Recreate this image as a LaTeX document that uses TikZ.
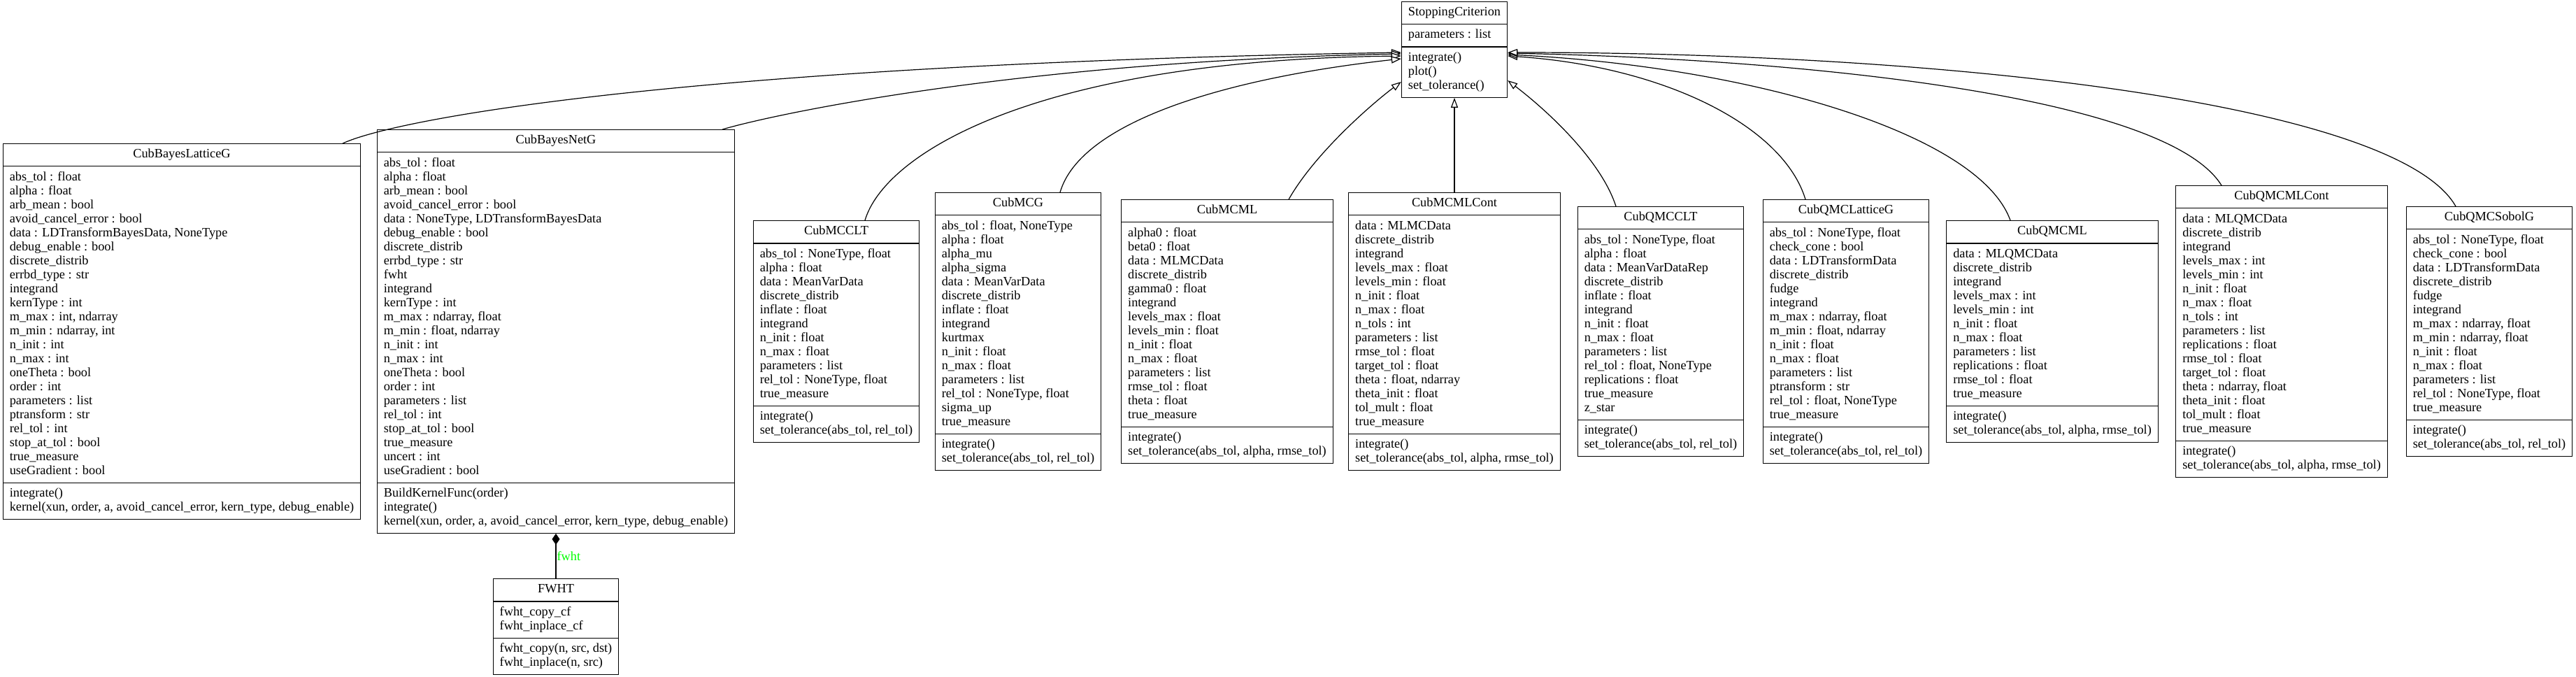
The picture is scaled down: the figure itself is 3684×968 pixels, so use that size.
\documentclass[tikz,border=0pt]{standalone}
\usepackage{fontspec}
\setmainfont{Liberation Serif}
\usetikzlibrary{shapes.multipart, arrows.meta}

\newcommand{\rows}[1]{\strut#1\strut}

\begin{document}
\begin{tikzpicture}[x=1pt, y=-1pt,
	umlbox/.style={draw, line width=1.2pt, rectangle split, rectangle split parts=3, rectangle split part align={center,left,left}, align=left, inner xsep=9.5pt, inner ysep=5.5pt, font=\fontsize{18.3}{20}\selectfont},
	isa/.style={line width=1.2pt, -{Triangle[fill=white, length=14pt, width=10pt]}},
	hasa/.style={line width=1.2pt, {Diamond[length=16pt, width=11pt]}-}]
	\useasboundingbox (0,0) rectangle (3684,968);

	\node[umlbox] (sc) at (2080,71) {\rows{StoppingCriterion}\nodepart{two}\rows{parameters : list}\nodepart{three}\rows{integrate()\\plot()\\set\_tolerance()}};

	\node[umlbox] (blg) at (260,474) {\rows{CubBayesLatticeG}\nodepart{two}\rows{abs\_tol : float\\alpha : float\\arb\_mean : bool\\avoid\_cancel\_error : bool\\data : LDTransformBayesData, NoneType\\debug\_enable : bool\\discrete\_distrib\\errbd\_type : str\\integrand\\kernType : int\\m\_max : int, ndarray\\m\_min : ndarray, int\\n\_init : int\\n\_max : int\\oneTheta : bool\\order : int\\parameters : list\\ptransform : str\\rel\_tol : int\\stop\_at\_tol : bool\\true\_measure\\useGradient : bool}\nodepart{three}\rows{integrate()\\kernel(xun, order, a, avoid\_cancel\_error, kern\_type, debug\_enable)}};

	\node[umlbox] (bng) at (795,474) {\rows{CubBayesNetG}\nodepart{two}\rows{abs\_tol : float\\alpha : float\\arb\_mean : bool\\avoid\_cancel\_error : bool\\data : NoneType, LDTransformBayesData\\debug\_enable : bool\\discrete\_distrib\\errbd\_type : str\\fwht\\integrand\\kernType : int\\m\_max : ndarray, float\\m\_min : float, ndarray\\n\_init : int\\n\_max : int\\oneTheta : bool\\order : int\\parameters : list\\rel\_tol : int\\stop\_at\_tol : bool\\true\_measure\\uncert : int\\useGradient : bool}\nodepart{three}\rows{BuildKernelFunc(order)\\integrate()\\kernel(xun, order, a, avoid\_cancel\_error, kern\_type, debug\_enable)}};

	\node[umlbox] (mcclt) at (1196,474) {\rows{CubMCCLT}\nodepart{two}\rows{abs\_tol : NoneType, float\\alpha : float\\data : MeanVarData\\discrete\_distrib\\inflate : float\\integrand\\n\_init : float\\n\_max : float\\parameters : list\\rel\_tol : NoneType, float\\true\_measure}\nodepart{three}\rows{integrate()\\set\_tolerance(abs\_tol, rel\_tol)}};

	\node[umlbox] (mcg) at (1456,474) {\rows{CubMCG}\nodepart{two}\rows{abs\_tol : float, NoneType\\alpha : float\\alpha\_mu\\alpha\_sigma\\data : MeanVarData\\discrete\_distrib\\inflate : float\\integrand\\kurtmax\\n\_init : float\\n\_max : float\\parameters : list\\rel\_tol : NoneType, float\\sigma\_up\\true\_measure}\nodepart{three}\rows{integrate()\\set\_tolerance(abs\_tol, rel\_tol)}};

	\node[umlbox] (mcml) at (1755,474) {\rows{CubMCML}\nodepart{two}\rows{alpha0 : float\\beta0 : float\\data : MLMCData\\discrete\_distrib\\gamma0 : float\\integrand\\levels\_max : float\\levels\_min : float\\n\_init : float\\n\_max : float\\parameters : list\\rmse\_tol : float\\theta : float\\true\_measure}\nodepart{three}\rows{integrate()\\set\_tolerance(abs\_tol, alpha, rmse\_tol)}};

	\node[umlbox] (mcmlc) at (2080,474) {\rows{CubMCMLCont}\nodepart{two}\rows{data : MLMCData\\discrete\_distrib\\integrand\\levels\_max : float\\levels\_min : float\\n\_init : float\\n\_max : float\\n\_tols : int\\parameters : list\\rmse\_tol : float\\target\_tol : float\\theta : float, ndarray\\theta\_init : float\\tol\_mult : float\\true\_measure}\nodepart{three}\rows{integrate()\\set\_tolerance(abs\_tol, alpha, rmse\_tol)}};

	\node[umlbox] (qclt) at (2375,474) {\rows{CubQMCCLT}\nodepart{two}\rows{abs\_tol : NoneType, float\\alpha : float\\data : MeanVarDataRep\\discrete\_distrib\\inflate : float\\integrand\\n\_init : float\\n\_max : float\\parameters : list\\rel\_tol : float, NoneType\\replications : float\\true\_measure\\z\_star}\nodepart{three}\rows{integrate()\\set\_tolerance(abs\_tol, rel\_tol)}};

	\node[umlbox] (qlat) at (2640,474) {\rows{CubQMCLatticeG}\nodepart{two}\rows{abs\_tol : NoneType, float\\check\_cone : bool\\data : LDTransformData\\discrete\_distrib\\fudge\\integrand\\m\_max : ndarray, float\\m\_min : float, ndarray\\n\_init : float\\n\_max : float\\parameters : list\\ptransform : str\\rel\_tol : float, NoneType\\true\_measure}\nodepart{three}\rows{integrate()\\set\_tolerance(abs\_tol, rel\_tol)}};

	\node[umlbox] (qml) at (2935,474) {\rows{CubQMCML}\nodepart{two}\rows{data : MLQMCData\\discrete\_distrib\\integrand\\levels\_max : int\\levels\_min : int\\n\_init : float\\n\_max : float\\parameters : list\\replications : float\\rmse\_tol : float\\true\_measure}\nodepart{three}\rows{integrate()\\set\_tolerance(abs\_tol, alpha, rmse\_tol)}};

	\node[umlbox] (qmlc) at (3263,474) {\rows{CubQMCMLCont}\nodepart{two}\rows{data : MLQMCData\\discrete\_distrib\\integrand\\levels\_max : int\\levels\_min : int\\n\_init : float\\n\_max : float\\n\_tols : int\\parameters : list\\replications : float\\rmse\_tol : float\\target\_tol : float\\theta : ndarray, float\\theta\_init : float\\tol\_mult : float\\true\_measure}\nodepart{three}\rows{integrate()\\set\_tolerance(abs\_tol, alpha, rmse\_tol)}};

	\node[umlbox] (qsob) at (3560,474) {\rows{CubQMCSobolG}\nodepart{two}\rows{abs\_tol : NoneType, float\\check\_cone : bool\\data : LDTransformData\\discrete\_distrib\\fudge\\integrand\\m\_max : ndarray, float\\m\_min : ndarray, float\\n\_init : float\\n\_max : float\\parameters : list\\rel\_tol : NoneType, float\\true\_measure}\nodepart{three}\rows{integrate()\\set\_tolerance(abs\_tol, rel\_tol)}};

	\node[umlbox] (fwht) at (795,896) {\rows{FWHT}\nodepart{two}\rows{fwht\_copy\_cf\\fwht\_inplace\_cf}\nodepart{three}\rows{fwht\_copy(n, src, dst)\\fwht\_inplace(n, src)}};

	\draw[isa] ([xshift=230pt]blg.north) .. controls (570,168) and (1000,92) .. ([yshift=-4pt]sc.west);
	\draw[isa] ([xshift=238pt]bng.north) .. controls (1100,165) and (1450,88) .. ([yshift=-6pt]sc.west);
	\draw[isa] ([xshift=41pt]mcclt.north) .. controls (1265,220) and (1480,86) .. ([yshift=-9pt]sc.west);
	\draw[isa] ([xshift=60pt]mcg.north) .. controls (1545,175) and (1750,112) .. ([yshift=-13pt]sc.west);
	\draw[isa] ([xshift=88pt]mcml.north) .. controls (1880,220) and (1960,150) .. ([yshift=-46pt]sc.west);
	\draw[isa] (mcmlc.north) -- (sc.south);
	\draw[isa] ([xshift=-64pt]qclt.north) .. controls (2290,230) and (2215,160) .. ([yshift=-44pt]sc.east);
	\draw[isa] ([xshift=-58pt]qlat.north) .. controls (2550,180) and (2380,95) .. ([yshift=-9pt]sc.east);
	\draw[isa] ([xshift=-60pt]qml.north) .. controls (2830,190) and (2500,95) .. ([yshift=-7pt]sc.east);
	\draw[isa] ([xshift=-86pt]qmlc.north) .. controls (3100,140) and (2600,85) .. ([yshift=-5pt]sc.east);
	\draw[isa] ([xshift=-48pt]qsob.north) .. controls (3430,150) and (2800,75) .. ([yshift=-4pt]sc.east);
	\draw[hasa] (bng.south) -- (fwht.north) node[pos=0.5, right, inner sep=1pt, text=green, font=\fontsize{18.3}{20}\selectfont] {fwht};
\end{tikzpicture}
\end{document}
